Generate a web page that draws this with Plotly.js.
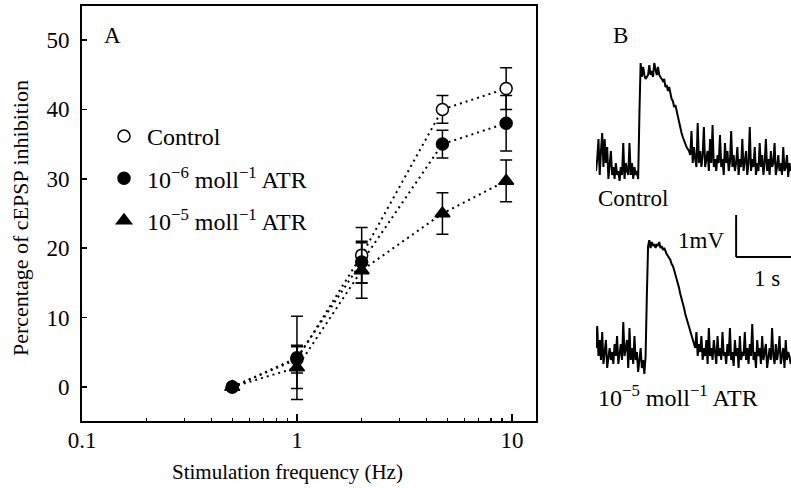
<!DOCTYPE html>
<html><head><meta charset="utf-8">
<script src="https://cdn.plot.ly/plotly-3.0.1.min.js"></script>
<style>html,body{margin:0;padding:0;background:#fff}#chart{width:791px;height:488px}</style>
</head><body><div id="chart"></div>
<script>
// ---- Panel A data ----
const freqHz = [0.5, 1, 2, 4.75, 9.4];
const controlPct = [0, 4, 19, 40, 43];
const controlErr = [0, 2, 4, 2, 3];
const atr6Pct = [0, 4.2, 18, 35, 38];
const atr6Err = [0, 6, 3, 2, 4];
const atr5Pct = [0, 2.8, 16.8, 25, 29.7];
const atr5Err = [0, 3, 4, 3, 3];
const seriesNames = ['Control', '10<sup>−6</sup> moll<sup>−1</sup> ATR', '10<sup>−5</sup> moll<sup>−1</sup> ATR'];
const xTickVals = [0.1, 1, 10];
const xTickText = ['0.1', '1', '10'];
const xMinorVals = [0.2, 0.3, 0.4, 0.5, 0.6, 0.7, 0.8, 0.9, 2, 3, 4, 5, 6, 7, 8, 9];
const yTickVals = [0, 10, 20, 30, 40, 50];

// ---- Panel B data (mV, sampled every traceDt s) ----
const traceDt = 0.02;
const controlTrace = [
  0.1, 0.4, 0.9, 0.0, 0.6, 1.05, 0.2, 0.9, 0.3, 0.7,
  -0.1, 0.4, 0.6, 0.0, 0.2, -0.1, 0.3, 0.0, 0.1, -0.15,
  0.2, 0.0, 0.8, -0.1, 0.3, 0.1, 0.0, 0.8, 0.0, 0.3,
  -0.1, 0.2, 0.0, 0.1, -0.1,
  1.5, 2.8,
  2.45, 2.7, 2.5, 2.4, 2.45, 2.5, 2.75, 2.5, 2.6, 2.45, 2.8, 2.6, 2.5, 2.7, 2.5, 2.45, 2.4, 2.35, 2.4, 2.2, 2.25, 2.1, 2.2,
  2.0, 1.9, 1.85, 1.7, 1.75, 1.6, 1.45, 1.3, 1.2, 1.05, 0.95, 0.85, 0.8, 0.7, 0.65, 0.6,
  0.5, 1.1, 0.3, 0.7, 0.4, 0.2, 1.3, 0.3, 0.6, 0.2,
  0.5, 1.2, 0.2, 0.4, 0.6, 0.1, 0.9, 0.3, 1.25, 0.2,
  0.4, 0.1, 0.5, 0.3, 1.0, 0.2, 0.4, 0.0, 0.8, 0.3,
  0.6, 0.1, 0.3, 1.1, 0.2, 0.5, 0.1, 0.3, 0.7, 0.0,
  0.4, 0.2, 0.9, 0.1, 0.3, 0.6, 0.0, 0.3, 1.2, 0.1,
  0.4, 0.2, 0.7, 0.0, 0.3, 0.1, 0.8, 0.2, 0.5, 0.0,
  0.3, 0.9, 0.1, 0.4, 0.0, 0.6, 0.2, 0.3, 0.8, 0.0,
  0.2, 0.5, 0.1, 0.3, 0.0, 0.7, 0.1, 0.2, 0.5, -0.05,
  0.3, 0.1
];
const atrTrace = [
  0.3, 0.85, 0.1, 0.5, 0.0, 0.7, -0.1, 0.2, 0.5, -0.2,
  0.1, 0.3, 0.0, 0.2, -0.1, 0.4, 0.1, 0.6, -0.1, 0.2,
  0.4, 0.0, 0.95, 0.1, 0.3, 0.5, -0.2, 0.8, 0.0, 0.3,
  -0.1, 0.6, 0.0, 0.2, -0.3, 0.1, 0.3, -0.2, 0.0, -0.35, 0.1,
  1.6, 2.85,
  3.0, 2.8, 2.95, 2.85, 2.9, 2.8, 2.9, 2.85, 2.95, 2.8, 2.85, 2.75, 2.8, 2.7, 2.65, 2.6, 2.55, 2.5, 2.4, 2.35,
  2.25, 2.15, 2.0, 1.9, 1.8, 1.65, 1.55, 1.4, 1.3, 1.15, 1.05, 0.9, 0.8, 0.7, 0.6, 0.5, 0.45,
  0.3, 0.7, 0.1, 0.4, 0.2, 0.6, 0.0, 0.3, 0.1, 0.5,
  -0.1, 0.8, 0.1, 0.3, 0.0, 0.5, 0.2, -0.1, 0.6, 0.1,
  0.3, 0.0, 0.7, 0.1, 0.2, -0.1, 0.4, 0.1, 0.8, 0.0,
  0.2, -0.15, 0.5, 0.1, 0.3, -0.2, 0.6, 0.0, 0.2, 0.1,
  0.7, 0.0, 0.3, -0.1, 0.4, 0.1, 0.9, 0.0, 0.2, -0.2,
  0.5, 0.1, 0.3, -0.1, 0.6, 0.0, 0.2, 0.4, -0.2, 0.1,
  0.3, 0.0, 0.8, 0.1, -0.1, 0.4, 0.0, 0.2, 0.6, -0.1,
  0.1, 0.3, -0.2, 0.5, 0.0, 0.2, 0.1, -0.1
];
const scaleBarStart = 2.26; // s
const scaleBarLen = 1;      // 1 s

const FONT = 'Liberation Serif, Times New Roman, serif';
const W = 791, H = 488;
const px = v => v / W;
const py = v => 1 - v / H;

const series = [
  {y: controlPct, err: controlErr, name: seriesNames[0], symbol: 'circle', fill: '#ffffff', size: 12},
  {y: atr6Pct, err: atr6Err, name: seriesNames[1], symbol: 'circle', fill: '#000000', size: 12},
  {y: atr5Pct, err: atr5Err, name: seriesNames[2], symbol: 'triangle-up', fill: '#000000', size: 13}
];

const data = [];
series.forEach(s => {
  data.push({x: freqHz, y: s.y, mode: 'lines', showlegend: false, hoverinfo: 'skip',
    line: {color: '#000', width: 2, dash: '2px,4px'}, xaxis: 'x', yaxis: 'y'});
});
series.forEach((s, i) => {
  data.push({x: freqHz, y: s.y, mode: 'markers', name: s.name, legendgroup: 'g' + i,
    marker: {symbol: s.symbol, size: s.size, color: s.fill, line: {color: '#000', width: 1.5}},
    error_y: {type: 'data', array: s.err, visible: true, color: '#000', thickness: 1.5, width: 6},
    xaxis: 'x', yaxis: 'y'});
});
data.push({y: controlTrace, x0: 0, dx: traceDt, mode: 'lines', showlegend: false, hoverinfo: 'skip',
  line: {color: '#000', width: 2}, xaxis: 'x2', yaxis: 'y2'});
data.push({y: atrTrace, x0: 0, dx: traceDt, mode: 'lines', showlegend: false, hoverinfo: 'skip',
  line: {color: '#000', width: 2}, xaxis: 'x2', yaxis: 'y3'});

function note(text, x, y, xanchor, size, angle) {
  return {text: text, x: px(x), y: py(y), xref: 'paper', yref: 'paper', xanchor: xanchor || 'center',
    yanchor: 'middle', showarrow: false, textangle: angle || 0, font: {size: size || 23, color: '#000'}};
}

const layout = {
  width: W, height: H,
  margin: {l: 0, r: 0, t: 0, b: 0},
  paper_bgcolor: '#fff', plot_bgcolor: 'rgba(0,0,0,0)',
  font: {family: FONT, color: '#000', size: 23},
  showlegend: true,
  legend: {x: px(101), y: py(114), xanchor: 'left', yanchor: 'top', bgcolor: 'rgba(0,0,0,0)',
    font: {size: 24, color: '#000'}, tracegroupgap: 8, borderwidth: 0, itemwidth: 36},
  xaxis: {type: 'log', domain: [px(82), px(536)], range: [-1, 1.112], anchor: 'y',
    tickmode: 'array', tickvals: xTickVals, ticktext: xTickText,
    ticks: 'inside', ticklen: 7, tickwidth: 1.5, tickcolor: '#000',
    minor: {tickmode: 'array', tickvals: xMinorVals, ticks: 'inside', ticklen: 3, tickwidth: 1.2, tickcolor: '#000', showgrid: false},
    showline: true, linewidth: 2, linecolor: '#000', mirror: true, showgrid: false, zeroline: false,
    tickfont: {size: 23}, ticklabelstandoff: -3, automargin: false},
  yaxis: {domain: [py(421), py(6)], range: [-4.9, 54.9], anchor: 'x',
    tickmode: 'array', tickvals: yTickVals,
    ticks: 'inside', ticklen: 5, tickwidth: 1.5, tickcolor: '#000',
    showline: true, linewidth: 2, linecolor: '#000', mirror: true, showgrid: false, zeroline: false,
    tickfont: {size: 23}, ticklabelstandoff: 6, automargin: false},
  xaxis2: {domain: [px(596), 1], range: [0, 3.145], visible: false, anchor: 'y2', fixedrange: true},
  yaxis2: {domain: [py(195), py(55)], range: [-0.5, 3.0], visible: false, anchor: 'x2', fixedrange: true},
  yaxis3: {domain: [py(380), py(240)], range: [-0.5, 3.0], visible: false, anchor: 'x2', fixedrange: true},
  annotations: [
    note('Stimulation frequency (Hz)', 287, 472, 'center', 21),
    note('Percentage of cEPSP inhibition', 20, 218, 'center', 22, -90),
    note('A', 112, 35),
    note('B', 620, 35),
    note('Control', 596, 198, 'left'),
    note('10<sup>−5</sup> moll<sup>−1</sup> ATR', 596, 396, 'left', 24),
    note('1mV', 726, 240, 'right'),
    note('1 s', 767, 278)
  ],
  shapes: [
    {type: 'line', xref: 'x2', yref: 'paper', x0: scaleBarStart, x1: scaleBarStart, y0: py(215), y1: py(257), line: {color: '#000', width: 2}},
    {type: 'line', xref: 'x2', yref: 'paper', x0: scaleBarStart, x1: scaleBarStart + scaleBarLen, y0: py(257), y1: py(257), line: {color: '#000', width: 2}}
  ]
};

Plotly.newPlot('chart', data, layout, {displayModeBar: false, staticPlot: true});
</script></body></html>
